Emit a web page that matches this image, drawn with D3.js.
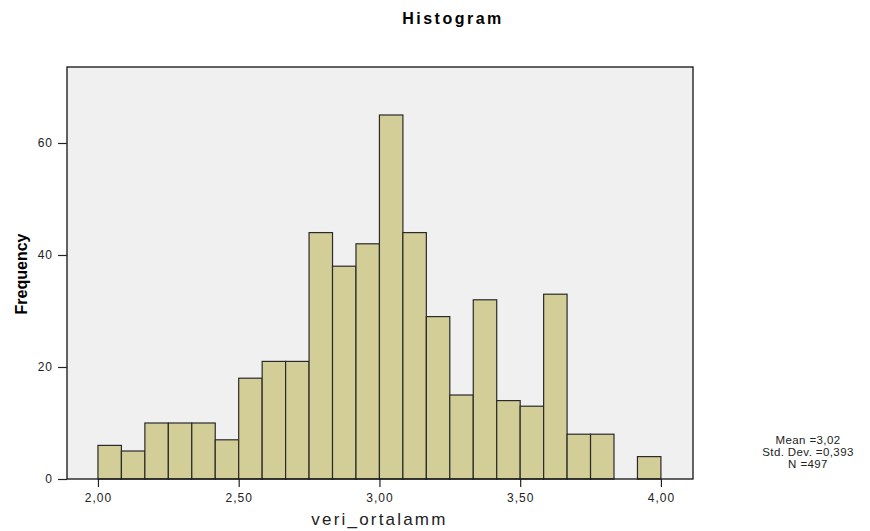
<!DOCTYPE html>
<html>
<head>
<meta charset="utf-8">
<script src="https://cdn.jsdelivr.net/npm/d3@7"></script>
<style>
  body { margin: 0; background: #fff; }
  text { font-family: "Liberation Sans", Arial, sans-serif; }
</style>
</head>
<body>
<div id="chart-area"></div>
<script>
const width = 870;
const height = 531;
const margin = {left: 67, top: 67, right: 177, bottom: 52};

// bin edges every 1/12 from 2.00 to 4.00
const binStart = 2.0;
const binStep = 1 / 12;
const counts = [6, 5, 10, 10, 10, 7, 18, 21, 21, 44, 38, 42, 65, 44, 29, 15, 32, 14, 13, 33, 8, 8, 0, 4];
const xTicks = [2.0, 2.5, 3.0, 3.5, 4.0];
const yTicks = [0, 20, 40, 60];
const stats = ["Mean =3,02", "Std. Dev. =0,393", "N =497"];

const bins = counts.map((c, i) => ({x0: binStart + i * binStep, x1: binStart + (i + 1) * binStep, n: c}));

const svg = d3.select("#chart-area")
    .append("svg")
    .attr("width", width)
    .attr("height", height);

const innerWidth = width - margin.left - margin.right;
const innerHeight = height - margin.top - margin.bottom;

const xScale = d3.scaleLinear()
    .domain([1.89, 4.114])
    .range([0, innerWidth]);

const yScale = d3.scaleLinear()
    .domain([0, 73.57])
    .range([innerHeight, 0]);

const g = svg.append("g")
    .attr("transform", `translate(${margin.left},${margin.top})`);

// plot background
g.append("rect")
    .attr("width", innerWidth)
    .attr("height", innerHeight)
    .attr("fill", "#f0f0f0");

// bars
g.selectAll("rect.bar")
    .data(bins.filter(d => d.n > 0))
    .enter()
    .append("rect")
    .attr("class", "bar")
    .attr("x", d => xScale(d.x0))
    .attr("width", d => xScale(d.x1) - xScale(d.x0))
    .attr("y", d => yScale(d.n))
    .attr("height", d => innerHeight - yScale(d.n))
    .attr("fill", "#d3ce98")
    .attr("stroke", "#2a2a2a")
    .attr("stroke-width", 1.2);

// frame
g.append("rect")
    .attr("width", innerWidth)
    .attr("height", innerHeight)
    .attr("fill", "none")
    .attr("stroke", "#111")
    .attr("stroke-width", 1.3);

// axes
const xAxis = d3.axisBottom(xScale)
    .tickValues(xTicks)
    .tickSize(8)
    .tickSizeOuter(0)
    .tickFormat(d => d3.format(".2f")(d).replace(".", ","));

const xAxisGroup = g.append("g")
    .attr("transform", `translate(0,${innerHeight})`)
    .call(xAxis);

const yAxis = d3.axisLeft(yScale)
    .tickValues(yTicks)
    .tickSize(9)
    .tickSizeOuter(0);

const yAxisGroup = g.append("g").call(yAxis);

[xAxisGroup, yAxisGroup].forEach(ax => {
    ax.select(".domain").remove();
    ax.selectAll(".tick line").attr("stroke", "#222").attr("stroke-width", 1.2);
    ax.selectAll(".tick text")
        .attr("fill", "#222")
        .style("font-size", "12px")
        .style("letter-spacing", "1px");
});
xAxisGroup.selectAll(".tick text").attr("dy", "1.0em");
yAxisGroup.selectAll(".tick text").attr("dx", "-2px");

// titles
svg.append("text")
    .attr("x", 453)
    .attr("y", 24)
    .attr("text-anchor", "middle")
    .style("font-size", "16px")
    .style("font-weight", "bold")
    .style("letter-spacing", "2.5px")
    .text("Histogram");

svg.append("text")
    .attr("x", margin.left + xScale(3.0))
    .attr("y", 525)
    .attr("text-anchor", "middle")
    .style("font-size", "17px")
    .style("letter-spacing", "2.2px")
    .attr("fill", "#222")
    .text("veri_ortalamm");

svg.append("text")
    .attr("transform", "rotate(-90)")
    .attr("x", -274)
    .attr("y", 27)
    .attr("text-anchor", "middle")
    .style("font-size", "16px")
    .style("font-weight", "bold")
    .text("Frequency");

// stats box
svg.append("g")
    .selectAll("text")
    .data(stats)
    .enter()
    .append("text")
    .attr("x", 808)
    .attr("y", (d, i) => 444 + i * 12)
    .attr("text-anchor", "middle")
    .style("font-size", "11.5px")
    .style("letter-spacing", "0.4px")
    .attr("fill", "#222")
    .text(d => d);
</script>
</body>
</html>
